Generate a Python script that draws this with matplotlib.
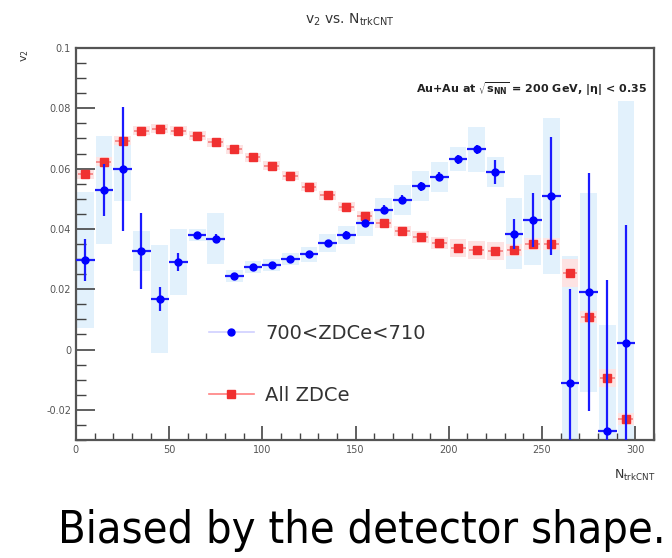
import numpy as np
import matplotlib
matplotlib.use("Agg")
import matplotlib.pyplot as plt
from matplotlib.lines import Line2D
from matplotlib.ticker import MultipleLocator

# N_trkCNT bin centres (bin width 10)
n_trk = np.arange(5, 300, 10)

# v2 for all ZDC events (red squares)
v2_all = [0.0581, 0.0623, 0.0692, 0.0726, 0.0732, 0.0726, 0.0709, 0.0688, 0.0664, 0.0637,
          0.0610, 0.0576, 0.0540, 0.0511, 0.0473, 0.0443, 0.0418, 0.0393, 0.0373, 0.0354,
          0.0338, 0.0329, 0.0327, 0.0329, 0.0351, 0.0351, 0.0254, 0.0109, -0.0093, -0.0230]
v2_all_sys = [0.0015, 0.0015, 0.0015, 0.0015, 0.0015, 0.0015, 0.0015, 0.0015, 0.0015, 0.0015,
              0.0015, 0.0015, 0.0015, 0.0015, 0.0015, 0.0015, 0.0015, 0.0015, 0.002, 0.002,
              0.003, 0.003, 0.003, 0.002, 0.002, 0.002, 0.0045, 0.002, 0.003, 0.002]

# v2 for 700 < ZDCe < 710 (blue circles)
v2_zdc = [0.0296, 0.0529, 0.0598, 0.0327, 0.0168, 0.0290, 0.0379, 0.0368, 0.0243, 0.0273,
          0.0279, 0.0299, 0.0316, 0.0353, 0.0381, 0.0418, 0.0464, 0.0496, 0.0542, 0.0573,
          0.0631, 0.0664, 0.0590, 0.0384, 0.0429, 0.0509, -0.0110, 0.0190, -0.0269, 0.0023]
v2_zdc_stat = [0.007, 0.0085, 0.0205, 0.0125, 0.004, 0.003, 0.0012, 0.0015, 0.001, 0.001,
               0.001, 0.001, 0.001, 0.001, 0.0012, 0.0012, 0.0015, 0.0015, 0.0015, 0.0015,
               0.0015, 0.0015, 0.004, 0.005, 0.009, 0.0195, 0.031, 0.0394, 0.05, 0.039]
v2_zdc_sys = [0.0225, 0.018, 0.0105, 0.0067, 0.018, 0.011, 0.002, 0.0086, 0.002, 0.002,
              0.002, 0.002, 0.0025, 0.003, 0.003, 0.004, 0.004, 0.005, 0.005, 0.005,
              0.004, 0.0075, 0.005, 0.0117, 0.015, 0.026, 0.042, 0.033, 0.035, 0.08]

label_zdc = "700<ZDCe<710"
label_all = "All ZDCe"

fig = plt.figure(figsize=(6.72, 5.58), dpi=100)
ax = fig.add_axes([0.113, 0.2115, 0.86, 0.7025])

# systematic boxes
ax.bar(n_trk, 2*np.array(v2_zdc_sys), bottom=np.array(v2_zdc) - np.array(v2_zdc_sys),
       width=9, color='#e2f1fc', edgecolor='none', zorder=1)
ax.bar(n_trk, 2*np.array(v2_all_sys), bottom=np.array(v2_all) - np.array(v2_all_sys),
       width=9, color='#fde3e3', edgecolor='none', zorder=2)

ax.errorbar(n_trk, v2_zdc, yerr=v2_zdc_stat, xerr=5, fmt='o', ms=5, color='#0000ff',
            ecolor='#1a1aff', elinewidth=1.6, capsize=0, zorder=4)
ax.errorbar(n_trk, v2_all, xerr=4, fmt='s', ms=5.5, color='#f03030',
            ecolor='#f58080', elinewidth=1.2, capsize=0, zorder=3)

ax.set_xlim(0, 310)
ax.set_ylim(-0.03, 0.1)
ax.xaxis.set_major_locator(MultipleLocator(50))
ax.xaxis.set_minor_locator(MultipleLocator(10))
ax.yaxis.set_major_locator(MultipleLocator(0.02))
ax.yaxis.set_minor_locator(MultipleLocator(0.005))
ax.set_yticks([-0.02, 0, 0.02, 0.04, 0.06, 0.08, 0.1])
ax.set_yticklabels(['-0.02', '0', '0.02', '0.04', '0.06', '0.08', '0.1'])
ax.tick_params(which='both', direction='in', labelsize=7, labelcolor='#555555',
               color='#444444', right=False, top=False)
ax.tick_params(axis='y', which='major', length=14, width=1.2)
ax.tick_params(axis='y', which='minor', length=7, width=1)
ax.tick_params(axis='x', which='major', length=10, width=1.2)
ax.tick_params(axis='x', which='minor', length=5, width=1)
for sp in ax.spines.values():
    sp.set_linewidth(1.6)
    sp.set_color('#555555')

ax.text(0.988, 0.895, r'Au+Au at $\mathbf{\sqrt{s_{NN}}}$ = 200 GeV, |$\mathbf{\eta}$| < 0.35',
        transform=ax.transAxes, ha='right', va='center', fontsize=8, fontweight='bold',
        color='#222222')

handles = [Line2D([], [], color='#d0d0ff', lw=1.2, marker='o', ms=5, mfc='#0000ff', mec='#0000ff'),
           Line2D([], [], color='#ff8080', lw=1.2, marker='s', ms=5.5, mfc='#f03030', mec='#f03030')]
ax.legend(handles, [label_zdc, label_all], loc='upper left', bbox_to_anchor=(0.2, 0.34),
          frameon=False, fontsize=14, handlelength=2.3, labelspacing=2.2, handletextpad=0.6,
          labelcolor='#333333')

fig.text(0.52, 0.965, r'v$_2$ vs. N$_{\mathrm{trkCNT}}$', ha='center', va='center', fontsize=10,
         color='#333333')
fig.text(0.038, 0.9, r'v$_2$', rotation=90, ha='center', va='center', fontsize=8, color='#333333')
fig.text(0.945, 0.148, r'N$_{\mathrm{trkCNT}}$', ha='center', va='center', fontsize=9, color='#333333')

fig.text(0.539, 0.05, 'Biased by the detector shape.', ha='center', va='center', fontsize=32.3,
         family='DejaVu Sans', fontstretch='condensed', color='black')

fig.savefig('out.png', dpi=100)
